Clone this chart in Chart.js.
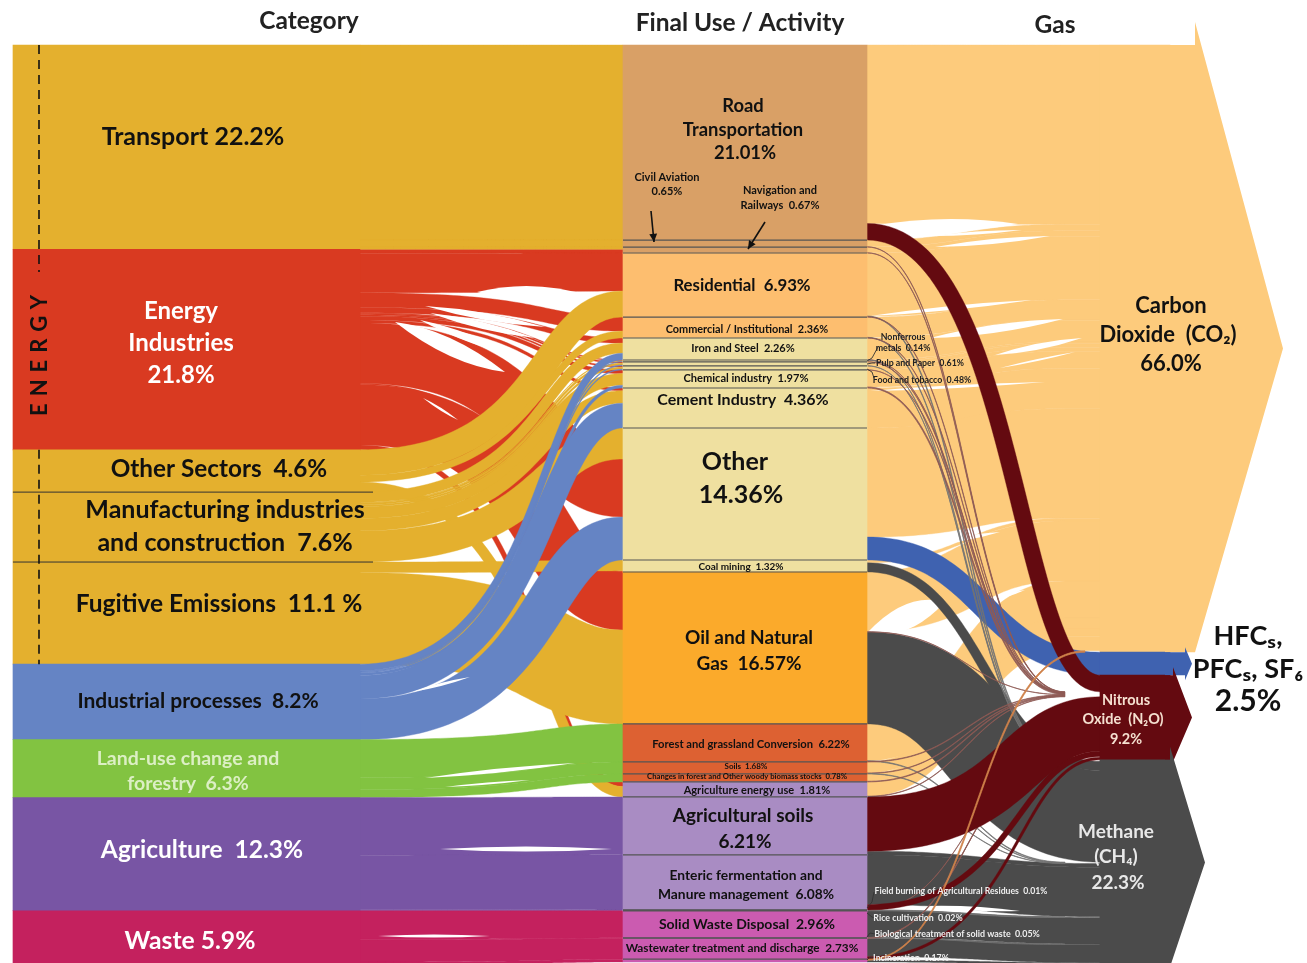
<!DOCTYPE html>
<html><head><meta charset="utf-8">
<style>html,body{margin:0;padding:0;background:#fff;overflow:hidden}canvas{display:block}</style>
<script src="https://cdn.jsdelivr.net/npm/chart.js@4/dist/chart.umd.js"></script>
</head><body><canvas id="c" width="1307" height="963"></canvas>
<script>
// ---------- data (shares of total emissions, %) ----------
const categories = ['Transport','Energy Industries','Other Sectors','Manufacturing industries and construction','Fugitive Emissions','Industrial processes','Land-use change and forestry','Agriculture','Waste'];
const categoryValues = [22.2,21.8,4.6,7.6,11.1,8.2,6.3,12.3,5.9];
const activities = ['Road Transportation','Civil Aviation','Navigation and Railways','Residential','Commercial / Institutional','Iron and Steel','Nonferrous metals','Pulp and Paper','Food and tobacco','Chemical industry','Cement Industry','Other','Coal mining','Oil and Natural Gas','Forest and grassland Conversion','Soils','Changes in forest and Other woody biomass stocks','Agriculture energy use','Agricultural soils','Enteric fermentation and Manure management','Field burning of Agricultural Residues','Rice cultivation','Solid Waste Disposal','Biological treatment of solid waste','Wastewater treatment and discharge','Incineration'];
const activityValues = [21.2,.76,.65,6.96,2.28,2.39,.2,.44,.44,1.96,4.35,14.35,1.3,16.52,4.13,1.3,.87,1.63,6.3,5.98,.05,.05,2.93,.05,2.28,.3];
const gases = ['Carbon Dioxide (CO2)','HFCs, PFCs, SF6','Nitrous Oxide (N2O)','Methane (CH4)'];
const gasValues = [66.0,2.5,9.2,22.3];
// [category, activity, value] in the order they stack on the activity
const categoryFlows = [
 [0,0,21.2],[0,1,.76],[0,2,.24],[1,2,.41],
 [1,3,4.13],[2,3,2.83],[1,4,1.52],[2,4,.76],
 [1,5,.55],[3,5,1.1],[5,5,.74],[1,6,.08],[3,6,.07],[5,6,.05],
 [1,7,.14],[3,7,.2],[5,7,.1],[1,8,.14],[3,8,.2],[5,8,.1],
 [1,9,.4],[3,9,1.26],[5,9,.3],[1,10,.3],[3,10,1.35],[5,10,2.7],
 [3,11,3.37],[1,11,6.3],[5,11,4.68],[4,12,1.18],[1,12,.12],
 [1,13,6.3],[4,13,10.22],[6,14,4.13],[6,15,1.3],[6,16,.87],
 [1,17,.5],[2,17,1.13],[7,18,6.3],[7,19,5.98],[7,20,.05],[7,21,.05],
 [8,22,2.93],[8,23,.05],[8,24,2.28],[8,25,.3]
];
// [activity, gas, value] in the order they leave the activity
const gasFlows = [
 [0,0,19.4],[0,2,1.8],[1,0,.7],[1,2,.03],[2,0,.62],[2,2,.03],
 [3,0,6.85],[3,3,.07],[3,2,.04],[4,0,2.2],[4,3,.05],[4,2,.03],
 [5,0,2.35],[5,2,.02],[5,3,.02],[6,0,.18],[6,2,.02],[7,0,.42],[7,3,.02],[8,0,.42],[8,2,.02],
 [9,0,1.85],[9,2,.11],[10,0,4.35],[11,0,11.85],[11,1,2.5],[12,0,.3],[12,3,1.0],
 [13,0,6.5],[13,2,.02],[13,3,10.0],[14,0,4.0],[14,3,.07],[14,2,.06],
 [15,0,1.2],[15,2,.05],[15,3,.05],[16,0,.8],[16,2,.07],[17,0,1.55],[17,2,.04],[17,3,.04],
 [18,2,5.9],[18,3,.4],[19,3,5.4],[19,2,.58],[20,3,.03],[20,2,.02],[21,3,.05],
 [22,3,2.9],[22,2,.03],[23,3,.03],[23,2,.02],[24,3,2.0],[24,2,.28],[25,0,.15],[25,3,.25]
];

// ---------- styles and layout ----------
const PX_PER_PCT = 9.2, TOP = 45;
const catColors = ['#E4B02E','#D93A21','#E4B02E','#E4B02E','#E4B02E','#6584C4','#82C341','#7855A4','#C4215E'];
const actColors = ['#D9A066','#D9A066','#D9A066','#FDBE6F','#FDBE6F','#EFE0A0','#EFE0A0','#EFE0A0','#EFE0A0','#EFE0A0','#EFE0A0','#EFE0A0','#EFE0A0','#FBAA2B','#DD6132','#DD6132','#DD6132','#A98CC3','#A98CC3','#A98CC3','#A98CC3','#A98CC3','#CB5BB0','#CB5BB0','#CB5BB0','#CB5BB0'];
const gasColors = ['#FDCB7C','#3F62B0','#640A10','#4B4B4B'];
const hairColors = ['#D0824A','#3F62B0','#8E5A55','#727272'];
const X = {catL:13,catR:360,actL:623,actR:867,gasL:1100,gasR:1170};
const gasCurveEnd = [1065,1100,1100,1100];
const gasCurveBow = [[.5,.5],[.5,.5],[.64,.36],[.5,.5]];
const headBase = [1195,1185,1173,1170], headTip = [1283,1192,1192,1205], headSpike = [23,5,8,13];
// thin white gaps left between flows that nearly merge: x0,y0,x1,y1,thickness
const energyGaps = [[477,292,590,296,16],[425,306,545,327,7],[430,313,535,338,7],[395,322,505,372,18],[420,320,520,357,8],[423,398,458,420,3]];
const landGaps = [[440,849,612,849,5],[378,936,490,936,3],[425,778,575,763,4],[445,787,530,780,2],[412,692,470,677,3]];
const co2Gaps = [[872,226,1018,224,12],[930,236,1022,230,3],[935,247,1050,236,5],[870,316,1032,300,4],[930,338,1063,319,8],[995,355,1082,338,6],[1000,368,1075,352,2],[870,391,1045,382,3],[920,546,1000,532,5],[990,600,1025,590,3],[868,632,945,602,26]];
const ch4Gaps = [[923,906,1020,911,4]];

const F = '"Lato","Noto Sans",sans-serif';
// text, centre x, centre y, size, colour
const labels = [
 ['Category',309,21,24.5,'#222'],['Final Use / Activity',740,23,24.5,'#222'],['Gas',1055,25,24.5,'#222'],
 ['Transport 22.2%',193,137,25,'#111'],
 ['Energy',181,311,24,'#fff'],['Industries',181,343,24,'#fff'],['21.8%',181,375,24,'#fff'],
 ['Other Sectors  4.6%',219,469,24.3,'#111'],
 ['Manufacturing industries',225,510,25,'#111'],['and construction  7.6%',225,543,25,'#111'],
 ['Fugitive Emissions  11.1 %',219,604,24.5,'#111'],
 ['Industrial processes  8.2%',198,701,21,'#111'],
 ['Land-use change and',188,759,19.5,'#DCEFC4'],['forestry  6.3%',188,784,19.5,'#DCEFC4'],
 ['Agriculture  12.3%',202,850,24.5,'#fff'],['Waste 5.9%',190,941,24.7,'#fff'],
 ['Road',743,106,18.4,'#111'],['Transportation',743,130,18.4,'#111'],['21.01%',745,153,18.4,'#111'],
 ['Civil Aviation',667,177,11,'#111'],['0.65%',667,191,11,'#111'],
 ['Navigation and',780,190,11,'#111'],['Railways  0.67%',780,205,11,'#111'],
 ['Residential  6.93%',742,286,16.8,'#111'],
 ['Commercial / Institutional  2.36%',747,329,10.9,'#111'],
 ['Iron and Steel  2.26%',743,348,11,'#111'],['Chemical industry  1.97%',746,378,11.1,'#111'],
 ['Cement Industry  4.36%',743,400,16,'#111'],
 ['Other',735,462,25,'#111'],['14.36%',741,495,25,'#111'],
 ['Coal mining  1.32%',741,567,10,'#111'],
 ['Oil and Natural',749,638,19,'#111'],['Gas  16.57%',749,664,19,'#111'],
 ['Forest and grassland Conversion  6.22%',751,744,11.2,'#111'],
 ['Soils  1.68%',746,766,8,'#111'],
 ['Changes in forest and Other woody biomass stocks  0.78%',747,777,7.7,'#111'],
 ['Agriculture energy use  1.81%',757,790,11,'#111'],
 ['Agricultural soils',743,816,19,'#111'],['6.21%',745,842,19,'#111'],
 ['Enteric fermentation and',746,876,13.8,'#111'],['Manure management  6.08%',746,895,13.8,'#111'],
 ['Solid Waste Disposal  2.96%',747,924,14,'#111'],
 ['Wastewater treatment and discharge  2.73%',742,948,11.8,'#111'],
 ['Nonferrous',903,337,8.8,'#222'],['metals  0.14%',903,348,8.8,'#222'],
 ['Pulp and Paper  0.61%',920,363,8.8,'#222'],['Food and tobacco  0.48%',922,380,8.8,'#222'],
 ['Carbon',1171,306,22,'#111'],['Dioxide  (CO₂)',1168,335,22,'#111'],['66.0%',1171,364,22,'#111'],
 ['HFCₛ,',1248,636,27,'#111'],['PFCₛ, SF₆',1248,669,27,'#111'],['2.5%',1248,701,30,'#111'],
 ['Nitrous',1126,700,14.5,'#F5E0D0'],['Oxide  (N₂O)',1123,719,14.5,'#F5E0D0'],['9.2%',1126,739,14.5,'#F5E0D0'],
 ['Methane',1116,832,19,'#E8E8E8'],['(CH₄)',1116,857,19,'#E8E8E8'],['22.3%',1118,883,19,'#E8E8E8'],
 ['Field burning of Agricultural Residues  0.01%',961,891,8.7,'#eee'],
 ['Rice cultivation  0.02%',918,918,8.8,'#eee'],
 ['Biological treatment of solid waste  0.05%',957,934,8.9,'#eee'],
 ['Incineration  0.17%',911,958,8.8,'#eee']
];

function stackRanges(values, start){ let y=start||0; return values.map(v=>{const r=[y,y+v]; y+=v; return r;}); }
const catRanges = stackRanges(categoryValues), actRanges = stackRanges(activityValues), gasRanges = stackRanges(gasValues);
const bars = (xKey, ranges) => ranges.map(r=>({x:xKey,y:r}));

function layout(flows, srcRanges, dstRanges, sortDst){
  const out = flows.map(f=>({s:f[0],d:f[1],v:f[2]}));
  const fill = (key,ranges,order,field)=>{
    ranges.forEach((r,i)=>{
      const list = order(out.filter(f=>f[key]===i));
      const sum = list.reduce((a,f)=>a+f.v,0);
      let y=r[0]; const k = sum? (r[1]-r[0])/sum : 1;
      list.forEach(f=>{ f[field]=[y,y+f.v*k]; y+=f.v*k; });
    });
  };
  fill('s',srcRanges,l=>l,'a');
  fill('d',dstRanges,sortDst,'b');
  return out;
}
const leftRibbons = layout(categoryFlows,catRanges,actRanges,l=>l);
const rightRibbons = layout(gasFlows,actRanges,gasRanges,l=>l.slice().sort((p,q)=>p.s-q.s));
const isHair = r => r.v<.2 && (r.d!==0 || r.s===25);

const sankey = {
 id:'sankey',
 beforeDatasetsDraw(chart){
  const c=chart.ctx,xs=chart.scales.x,ys=chart.scales.y;
  const ribbon=(x0,x1,a,b,ca,cb,col,lw,xFlat)=>{
    const X0=xs.getPixelForValue(x0),X1=xs.getPixelForValue(x1),d=X1-X0;
    const c1=X0+ca*d,c2=X1-cb*d;
    const a0=ys.getPixelForValue(a[0]),a1=ys.getPixelForValue(a[1]),b0=ys.getPixelForValue(b[0]),b1=ys.getPixelForValue(b[1]);
    const ya=(a0+a1)/2,yb=(b0+b1)/2,wa=a1-a0,wb=b1-b0,N=64;
    const up=[],lo=[];
    for(let i=0;i<=N;i++){
      const t=i/N,u=1-t;
      const px=u*u*u*X0+3*u*u*t*c1+3*u*t*t*c2+t*t*t*X1;
      const py=u*u*u*ya+3*u*u*t*ya+3*u*t*t*yb+t*t*t*yb;
      let dx=3*u*u*(c1-X0)+6*u*t*(c2-c1)+3*t*t*(X1-c2);
      let dy=6*u*t*(yb-ya);
      const len=Math.hypot(dx,dy)||1; dx/=len; dy/=len;
      const w=(wa+(wb-wa)*t)/2;
      up.push([px+dy*w,py-dx*w]); lo.push([px-dy*w,py+dx*w]);
    }
    c.beginPath();
    up.forEach((p,i)=>i?c.lineTo(p[0],p[1]):c.moveTo(p[0],p[1]));
    if(xFlat){c.lineTo(xs.getPixelForValue(xFlat),b0);c.lineTo(xs.getPixelForValue(xFlat),b1);}
    lo.reverse().forEach(p=>c.lineTo(p[0],p[1]));
    c.closePath();
    c.fillStyle=col;c.fill();c.strokeStyle=col;c.lineWidth=lw;c.stroke();
  };
  const gaps=list=>{
    c.fillStyle='#fff';
    list.forEach(s=>{
      const mx=(s[0]+s[2])/2,my=(s[1]+s[3])/2;
      c.beginPath();c.moveTo(s[0],s[1]);c.quadraticCurveTo(mx,my-s[4],s[2],s[3]);c.quadraticCurveTo(mx,my+s[4],s[0],s[1]);c.fill();
    });
  };
  const left=i=>leftRibbons.filter(r=>r.s===i).forEach(r=>ribbon(X.catR,X.actL,r.a,r.b,.72,.33,catColors[i],.4));
  left(1); gaps(energyGaps);
  [2,3,4,5,6,7,8,0].forEach(left);
  gaps(landGaps);
  const main=i=>rightRibbons.filter(r=>r.d===i&&!isHair(r)).forEach(r=>ribbon(X.actR,gasCurveEnd[i],r.a,r.b,gasCurveBow[i][0],gasCurveBow[i][1],gasColors[i],.4,X.gasL));
  const hairs=rightRibbons.filter(isHair);
  main(0); gaps(co2Gaps);
  main(3); gaps(ch4Gaps);
  main(1);
  hairs.filter(r=>r.d!==0).forEach(r=>ribbon(X.actR,X.gasL-35,r.a,r.b,.5,.5,hairColors[r.d],.7));
  main(2);
  hairs.filter(r=>r.d===0).forEach(r=>ribbon(X.actR,X.gasL-15,r.a,r.b,.5,.5,hairColors[0],.7));
 },
 afterDatasetsDraw(chart){
  const c=chart.ctx,xs=chart.scales.x,ys=chart.scales.y;
  const P=v=>ys.getPixelForValue(v), Q=v=>xs.getPixelForValue(v);
  [0,1,2,3].forEach(i=>{
    const t=P(gasRanges[i][0]),b=P(gasRanges[i][1]),m=(t+b)/2;
    c.beginPath();c.moveTo(Q(X.gasR-5),t);c.lineTo(Q(headBase[i]),t);c.lineTo(Q(headBase[i]),t-headSpike[i]);
    c.lineTo(Q(headTip[i]),m);
    c.lineTo(Q(headBase[i]),b+(i===0?0:(i===1?5:2)));c.lineTo(Q(headBase[i]),b);c.lineTo(Q(X.gasR-5),b);c.closePath();
    c.fillStyle=gasColors[i];c.fill();
  });
  c.strokeStyle='#555';c.lineWidth=1.2;
  actRanges.forEach((r,i)=>{ if(!i)return; const y=P(r[0]); c.beginPath();c.moveTo(Q(X.actL),y);c.lineTo(Q(X.actR),y);c.stroke(); });
  c.strokeStyle='#333';c.lineWidth=1;
  [3,4].forEach(i=>{const y=P(catRanges[i][0]);c.beginPath();c.moveTo(Q(X.catL),y);c.lineTo(Q(373),y);c.stroke();});
  c.strokeStyle='#111';c.lineWidth=1.6;c.setLineDash([9,6]);
  const yTop=P(catRanges[0][0]),yBot=P(catRanges[4][1]);
  c.beginPath();c.moveTo(39,yTop);c.lineTo(39,272);c.moveTo(39,P(catRanges[2][0]));c.lineTo(39,yBot);c.stroke();c.setLineDash([]);
  const arrow=(x0,y0,x1,y1)=>{const a=Math.atan2(y1-y0,x1-x0);c.strokeStyle='#111';c.lineWidth=1.6;c.beginPath();c.moveTo(x0,y0);c.lineTo(x1,y1);c.stroke();
    c.fillStyle='#111';c.beginPath();c.moveTo(x1,y1);c.lineTo(x1-9*Math.cos(a-.45),y1-9*Math.sin(a-.45));c.lineTo(x1-9*Math.cos(a+.45),y1-9*Math.sin(a+.45));c.closePath();c.fill();};
  arrow(651,211,654,242);arrow(765,222,748,249);
  c.strokeStyle='#333';c.lineWidth=.9;
  [[[867,361],[872,358],[878,347]],[[867,364],[872,363],[875,363]],[[867,369],[872,372],[874,378]],
   [[867,908],[872,902],[874,892]],[[867,913],[872,917],[875,918]],[[867,937],[870,933],[875,934]],[[867,960],[870,957],[873,958]]]
   .forEach(l=>{c.beginPath();l.forEach((p,i)=>i?c.lineTo(p[0],p[1]):c.moveTo(p[0],p[1]));c.stroke();});
  c.textAlign='center';c.textBaseline='middle';
  labels.forEach(l=>{c.font=`bold ${l[3]}px ${F}`;c.fillStyle=l[4];c.fillText(l[0],l[1],l[2]);});
  c.save();c.translate(40,352);c.rotate(-Math.PI/2);c.font=`bold 22px ${F}`;c.fillStyle='#111';
  if('letterSpacing' in c)c.letterSpacing='7px';c.fillText('ENERGY',0,0);c.restore();
 }
};

Chart.defaults.font.family=F;
new Chart(document.getElementById('c'),{
 type:'bar',
 data:{datasets:[
  {label:'Category',data:bars((X.catL+X.catR)/2,catRanges),backgroundColor:catColors,barThickness:X.catR-X.catL,grouped:false,borderWidth:0},
  {label:'Final Use / Activity',data:bars((X.actL+X.actR)/2,actRanges),backgroundColor:actColors,barThickness:X.actR-X.actL,grouped:false,borderWidth:0},
  {label:'Gas',data:bars((X.gasL+X.gasR)/2,gasRanges),backgroundColor:gasColors,barThickness:X.gasR-X.gasL,grouped:false,borderWidth:0}
 ]},
 options:{
  responsive:false,animation:false,
  layout:{padding:0},
  plugins:{legend:{display:false},tooltip:{enabled:false}},
  scales:{
   x:{type:'linear',display:false,offset:false,min:0,max:1307},
   y:{type:'linear',display:false,reverse:true,min:-TOP/PX_PER_PCT,max:(963-TOP)/PX_PER_PCT}
  }
 },
 plugins:[sankey]
});
</script></body></html>
